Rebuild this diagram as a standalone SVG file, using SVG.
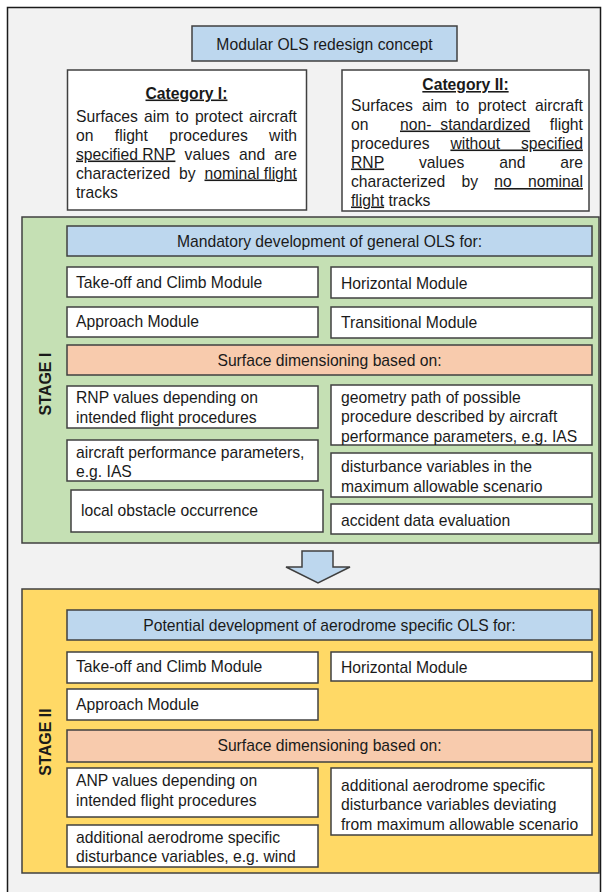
<svg xmlns="http://www.w3.org/2000/svg" width="605" height="892" viewBox="0 0 605 892">
<style>
.t{font-family:"Liberation Sans",Arial,sans-serif;font-size:15.7px;fill:#1a1a1a}
.c{text-anchor:middle}
.e{text-anchor:end}
.b{font-weight:bold}
.u{text-decoration:underline}
.bx{stroke:#404040;stroke-width:1.5}
.w{fill:#ffffff}
.blue{fill:#BDD7EE}
.or{fill:#F8CBAD}
.stage{font-family:"Liberation Sans",Arial,sans-serif;font-size:16px;font-weight:bold;fill:#1a1a1a;text-anchor:middle}
</style>
<rect x="0" y="0" width="605" height="892" fill="#ffffff"/>
<rect id="frame" x="7.5" y="7.5" width="593" height="895" fill="#F2F2F2" stroke="#1a1a1a" stroke-width="1.5"/>

<g id="title">
<rect class="bx blue" x="192" y="26" width="265" height="35"/>
<text class="t c" x="324.5" y="49.5">Modular OLS redesign concept</text>
</g>

<g id="cat1">
<rect class="bx w" x="67.5" y="70" width="239" height="140"/>
<text class="t c b u" x="186.5" y="98.5">Category I:</text>
<text class="t" y="121.5"><tspan x="76">Surfaces</tspan><tspan x="144.1">aim</tspan><tspan x="175.6">to</tspan><tspan x="194.9">protect</tspan><tspan x="249">aircraft</tspan></text>
<text class="t" y="140.5"><tspan x="76">on</tspan><tspan x="114.8">flight</tspan><tspan x="169.3">procedures</tspan><tspan x="269.1">with</tspan></text>
<text class="t" y="159.5"><tspan x="76" class="u">specified RNP</tspan><tspan x="184.6">values</tspan><tspan x="239.1">and</tspan><tspan x="274.3">are</tspan></text>
<text class="t" y="178.5"><tspan x="76">characterized</tspan><tspan x="179.1">by</tspan><tspan x="204.5" class="u">nominal flight</tspan></text>
<text class="t" x="76" y="197.5">tracks</text>
</g>

<g id="cat2">
<rect class="bx w" x="342" y="70" width="247" height="141"/>
<text class="t c b u" x="465.5" y="90">Category II:</text>
<text class="t" y="110.5"><tspan x="351">Surfaces</tspan><tspan x="421.9">aim</tspan><tspan x="456.1">to</tspan><tspan x="478.1">protect</tspan><tspan x="535">aircraft</tspan></text>
<text class="t" y="129.5"><tspan x="351">on</tspan><tspan x="400" class="u" style="word-spacing:4.6px">non- standardized</tspan><tspan x="549.8">flight</tspan></text>
<text class="t" y="148.5"><tspan x="351">procedures</tspan><tspan x="450.4" class="u" style="word-spacing:16.5px">without specified</tspan></text>
<text class="t" y="167.5"><tspan x="351" class="u">RNP</tspan><tspan x="419">values</tspan><tspan x="499.2">and</tspan><tspan x="560.3">are</tspan></text>
<text class="t" y="187"><tspan x="351">characterized</tspan><tspan x="461.5">by</tspan><tspan x="494.3" class="u" style="word-spacing:11.9px">no nominal</tspan></text>
<text class="t" x="351" y="205.5"><tspan class="u">flight</tspan> tracks</text>
</g>

<g id="stage1">
<rect class="bx" x="22" y="217" width="577" height="326" fill="#C5E0B4"/>
<text class="stage" transform="translate(45,384) rotate(-90)" x="0" y="6">STAGE I</text>
</g>

<g id="s1-header">
<rect class="bx blue" x="67" y="226" width="525" height="30"/>
<text class="t c" x="329.5" y="246.5">Mandatory development of general OLS for:</text>
</g>
<g id="s1-takeoff">
<rect class="bx w" x="67" y="267" width="251" height="30"/>
<text class="t" x="76" y="287.5">Take-off and Climb Module</text>
</g>
<g id="s1-horizontal">
<rect class="bx w" x="331" y="267" width="261" height="31"/>
<text class="t" x="341" y="288.5">Horizontal Module</text>
</g>
<g id="s1-approach">
<rect class="bx w" x="67" y="307" width="251" height="30"/>
<text class="t" x="76" y="326.5">Approach Module</text>
</g>
<g id="s1-transitional">
<rect class="bx w" x="331" y="307" width="261" height="31"/>
<text class="t" x="341" y="327.5">Transitional Module</text>
</g>
<g id="s1-surface">
<rect class="bx or" x="67" y="345" width="525" height="30"/>
<text class="t c" x="329.5" y="366">Surface dimensioning based on:</text>
</g>
<g id="s1-rnp">
<rect class="bx w" x="67" y="386" width="251" height="42"/>
<text class="t" x="76" y="402.5">RNP values depending on</text>
<text class="t" x="76" y="422.5">intended flight procedures</text>
</g>
<g id="s1-geometry">
<rect class="bx w" x="331" y="385" width="261" height="60"/>
<text class="t" x="341" y="403">geometry path of possible</text>
<text class="t" x="341" y="422">procedure described by aircraft</text>
<text class="t" x="341" y="441.5">performance parameters, e.g. IAS</text>
</g>
<g id="s1-aircraft">
<rect class="bx w" x="67" y="440" width="251" height="41"/>
<text class="t" x="76" y="457.5">aircraft performance parameters,</text>
<text class="t" x="76" y="476.5">e.g. IAS</text>
</g>
<g id="s1-disturbance">
<rect class="bx w" x="331" y="453" width="261" height="44"/>
<text class="t" x="341" y="472">disturbance variables in the</text>
<text class="t" x="341" y="491.5">maximum allowable scenario</text>
</g>
<g id="s1-local">
<rect class="bx w" x="71" y="490" width="252" height="42"/>
<text class="t" x="81" y="516">local obstacle occurrence</text>
</g>
<g id="s1-accident">
<rect class="bx w" x="331" y="504" width="261" height="30"/>
<text class="t" x="341" y="525.5">accident data evaluation</text>
</g>

<g id="connectors">
<polygon class="bx blue" points="302,551 333,551 333,567 350,567 318,583 286,567 302,567"/>
</g>

<g id="stage2">
<rect class="bx" x="22" y="589" width="577" height="284" fill="#FFD966"/>
<text class="stage" transform="translate(45,742) rotate(-90)" x="0" y="6">STAGE II</text>
</g>
<g id="s2-header">
<rect class="bx blue" x="67" y="610" width="525" height="30"/>
<text class="t c" x="329.5" y="630.5">Potential development of aerodrome specific OLS for:</text>
</g>
<g id="s2-takeoff">
<rect class="bx w" x="67" y="652" width="251" height="31"/>
<text class="t" x="76" y="672">Take-off and Climb Module</text>
</g>
<g id="s2-horizontal">
<rect class="bx w" x="331" y="652" width="261" height="29"/>
<text class="t" x="341" y="672.5">Horizontal Module</text>
</g>
<g id="s2-approach">
<rect class="bx w" x="67" y="689" width="251" height="31"/>
<text class="t" x="76" y="709.5">Approach Module</text>
</g>
<g id="s2-surface">
<rect class="bx or" x="67" y="730" width="525" height="32"/>
<text class="t c" x="329.5" y="750.5">Surface dimensioning based on:</text>
</g>
<g id="s2-anp">
<rect class="bx w" x="67" y="768" width="251" height="49"/>
<text class="t" x="76" y="785.5">ANP values depending on</text>
<text class="t" x="76" y="805.5">intended flight procedures</text>
</g>
<g id="s2-additional-right">
<rect class="bx w" x="331" y="768" width="261" height="67"/>
<text class="t" x="341" y="790.5">additional aerodrome specific</text>
<text class="t" x="341" y="810">disturbance variables deviating</text>
<text class="t" x="341" y="829.5">from maximum allowable scenario</text>
</g>
<g id="s2-additional-wind">
<rect class="bx w" x="67" y="825" width="251" height="42"/>
<text class="t" x="76" y="842.5">additional aerodrome specific</text>
<text class="t" x="76" y="861.5">disturbance variables, e.g. wind</text>
</g>
</svg>
